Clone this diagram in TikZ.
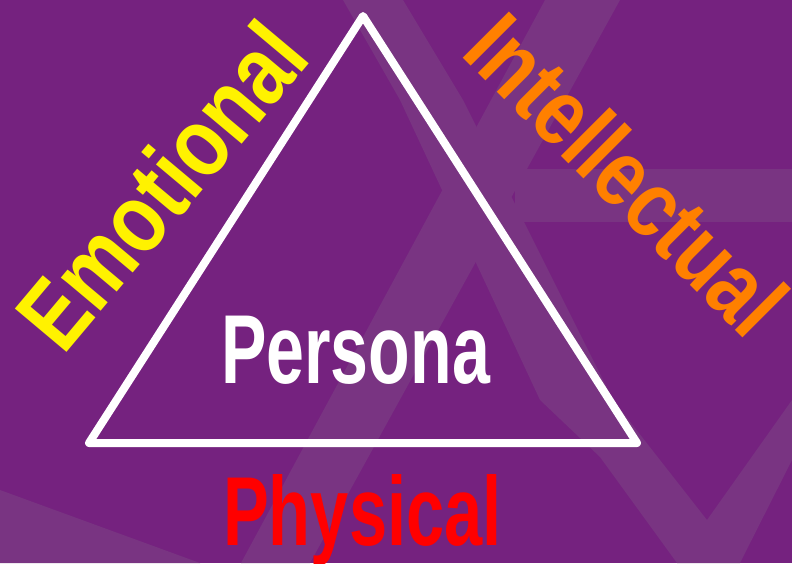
\documentclass[tikz,border=0pt]{standalone}
\usepackage{fontspec}
\setmainfont{Liberation Sans}
\begin{document}
\begin{tikzpicture}[x=1pt,y=-1pt]
\definecolor{bgpurple}{RGB}{117,34,127}
\definecolor{bandpurple}{RGB}{121,52,130}
\definecolor{lblorange}{RGB}{255,128,0}
\tikzset{
  lbl/.style={inner sep=0pt, font=\bfseries\fontsize{98}{98}\selectfont},
  bandfill/.style={fill=bandpurple},
  tri/.style={draw=white, line width=8pt, line join=round}
}
\fill[bgpurple] (0,0) rectangle (792,563);
\useasboundingbox (0,0) rectangle (792,563);
% background bands
\fill[bandfill] (545,0) -- (620,0) -- (310,563) -- (241,563) -- cycle;
\fill[bandfill] (343,0) -- (403,0) -- (463,100) -- (613,400) -- (707,520) -- (792,400) -- (792,460) -- (740,563) -- (677,563) -- (600,457) -- (540,400) -- (400,100) -- cycle;
\fill[bandfill] (515,169) rectangle (792,222);
\fill[bandfill] (0,490) -- (200,563) -- (0,563) -- cycle;
% triangle
\coordinate (top) at (363,16);
\coordinate (bl) at (89,443);
\coordinate (br) at (637,443);
\draw[tri] (top) -- (bl) -- (br) -- cycle;
% labels
\node[lbl, anchor=base west, text=white] (persona) at (221,383) {\scalebox{0.695}[1]{Persona}};
\node[lbl, anchor=base west, text=red] (physical) at (223,545) {\scalebox{0.70}[1]{Physical}};
\node[lbl, anchor=base west, text=yellow, rotate=50] (emotional) at (63,357) {\scalebox{0.82}[1]{Emotional}};
\node[lbl, anchor=base west, text=lblorange, rotate=-45, font=\bfseries\fontsize{95}{95}\selectfont] (intellectual) at (459,54) {\scalebox{0.82}[1]{Intellectual}};
\end{tikzpicture}
\end{document}
